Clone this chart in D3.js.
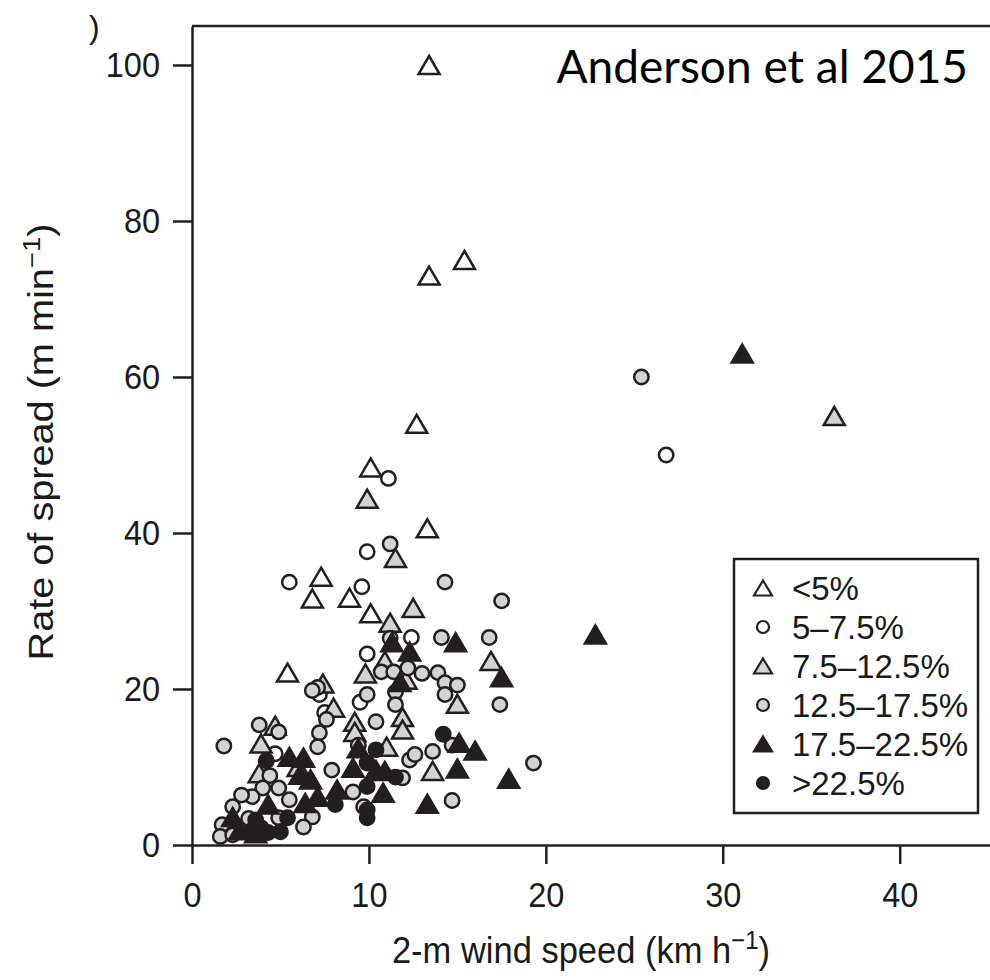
<!DOCTYPE html>
<html><head><meta charset="utf-8">
<script src="https://cdn.jsdelivr.net/npm/d3@7"></script>
<style>body{margin:0;background:#fff}svg{display:block}</style>
</head><body>
<script>
const categories = ["<5%", "5\u20137.5%", "7.5\u201312.5%", "12.5\u201317.5%", "17.5\u201322.5%", ">22.5%"];
const xTicks = [0, 10, 20, 30, 40];
const yTicks = [0, 20, 40, 60, 80, 100];

// [wind speed km/h, rate of spread m/min]
const lt5 = [[13.4,100],[13.4,73],[15.4,75],[12.7,54],[10.1,48.4],[13.3,40.6],[7.3,34.4],[6.8,31.6],[8.9,31.7],[10.1,29.7],[5.4,22.1]];
const s5to75 = [[26.8,50],[11.1,47],[9.9,37.6],[5.5,33.7],[9.6,33.1],[12.4,26.6],[9.9,24.5],[9.5,18.3],[7.2,19.3],[4.7,11.7],[7.5,17.0]];
const s75to125 = [[36.3,55],[9.9,44.4],[11.5,36.8],[12.5,30.4],[11.2,28.5],[10.9,23.6],[9.8,22.0],[12.1,21.2],[7.4,20.7],[16.9,23.6],[15.0,18.1],[8.0,17.6],[9.2,15.8],[9.2,14.5],[11.9,16.4],[11.9,14.8],[11.0,12.6],[13.6,9.5],[4.7,15.3],[3.9,13.0],[3.8,9.2],[6.0,10.0]];
const s125to175 = [[25.4,60],[11.2,38.6],[14.3,33.7],[17.5,31.3],[14.1,26.6],[16.8,26.6],[11.2,26.5],[10.7,22.2],[11.4,22.2],[12.2,22.7],[13.0,22.0],[13.9,22.1],[14.3,20.8],[15.0,20.5],[7.1,20.2],[9.9,19.3],[6.8,19.8],[14.3,19.3],[17.4,18.0],[11.5,19.6],[11.5,18.0],[10.4,15.8],[7.6,16.1],[7.2,14.4],[7.1,12.6],[9.4,12.8],[12.3,10.9],[12.6,11.6],[13.6,12.0],[14.7,12.8],[19.3,10.5],[14.7,5.7],[7.9,9.6],[11.9,8.6],[9.1,6.8],[9.7,4.9],[6.8,3.6],[1.8,12.7],[3.8,15.4],[4.9,14.5],[4.4,8.9],[4.0,7.3],[4.9,7.3],[3.4,6.2],[5.5,5.8],[2.8,6.4],[2.3,4.9],[4.9,3.5],[1.7,2.6],[1.6,1.1],[2.3,1.3],[6.3,2.3],[3.2,3.4]];
const s175to225 = [[31.1,63],[22.8,27],[14.9,26.0],[11.3,26.0],[12.3,24.8],[11.75,20.9],[17.5,21.5],[15.1,13.1],[16.0,12.1],[15.0,9.8],[17.9,8.5],[13.3,5.3],[9.4,12.4],[9.1,9.9],[10.4,9.6],[10.9,9.5],[6.7,8.4],[8.2,7.1],[10.8,6.7],[7.1,6.2],[5.5,11.3],[6.3,11.2],[6.1,9.0],[4.3,5.2],[6.4,5.4],[2.3,3.6],[2.7,1.9],[3.6,1.5]];
const gt225 = [[14.2,14.2],[10.4,12.2],[9.9,10.5],[11.5,8.7],[9.9,7.5],[8.1,5.2],[9.9,4.5],[9.9,3.5],[4.2,10.8],[3.6,3.2],[3.9,2.2],[4.3,1.6],[3.4,1.9],[5.4,3.5],[5.0,1.7]];

const seriesData = [lt5, s5to75, s75to125, s125to175, s175to225, gt225];
const shapes = ["tri", "circ", "tri", "circ", "tri", "circ"];
const fills = ["#ffffff", "#ffffff", "#d1d3d4", "#d1d3d4", "#231f20", "#231f20"];
const ink = "#231f20";

const W = 990, H = 980;
const svg = d3.select("body").append("svg").attr("width", W).attr("height", H);
const x = d3.scaleLinear().domain([0, 45.5]).range([192, 997]);
const y = d3.scaleLinear().domain([0, 105]).range([845, 26]);
const FONT = "'Liberation Sans', Arial, Helvetica, sans-serif";
const STRETCH = 1.07;

function triPath(w, h) {
  return `M0,${-h/2}L${w/2},${h/2}L${-w/2},${h/2}Z`;
}

// frame top line
svg.append("line").attr("x1", x(0)).attr("x2", x(45.5)).attr("y1", y(105)).attr("y2", y(105))
  .attr("stroke", ink).attr("stroke-width", 2.5);

const xAxis = svg.append("g").attr("transform", `translate(0,${y(0)})`)
  .call(d3.axisBottom(x).tickValues(xTicks).tickSize(19).tickSizeOuter(0).tickPadding(16));
const yAxis = svg.append("g").attr("transform", `translate(${x(0)},0)`)
  .call(d3.axisLeft(y).tickValues(yTicks).tickSize(19).tickSizeOuter(0).tickPadding(13));
[xAxis, yAxis].forEach(g => {
  g.selectAll("path.domain").attr("stroke", ink).attr("stroke-width", 2.5);
  g.selectAll(".tick line").attr("stroke", ink).attr("stroke-width", 2.5);
  g.selectAll(".tick text").attr("fill", "#1a1a1a").style("font-family", FONT).style("font-size", "32.5px")
    .attr("transform", `scale(1,${STRETCH})`);
});

// points
seriesData.forEach((pts, i) => {
  const g = svg.append("g");
  pts.forEach(p => {
    if (shapes[i] === "tri") {
      g.append("path").attr("d", triPath(21, 18))
        .attr("transform", `translate(${x(p[0])},${y(p[1])})`)
        .attr("fill", fills[i]).attr("stroke", ink).attr("stroke-width", 2.5).attr("stroke-linejoin", "miter");
    } else {
      g.append("circle").attr("cx", x(p[0])).attr("cy", y(p[1])).attr("r", 7.2)
        .attr("fill", fills[i]).attr("stroke", ink).attr("stroke-width", 2.5);
    }
  });
});

// legend
svg.append("rect").attr("x", 734).attr("y", 559).attr("width", 244).attr("height", 254)
  .attr("fill", "#fff").attr("stroke", ink).attr("stroke-width", 2.5);
categories.forEach((c, i) => {
  const cy = 588 + i * 39;
  if (shapes[i] === "tri") {
    svg.append("path").attr("d", triPath(18, 15)).attr("transform", `translate(763,${cy})`)
      .attr("fill", fills[i]).attr("stroke", ink).attr("stroke-width", 2.2);
  } else {
    svg.append("circle").attr("cx", 763).attr("cy", cy).attr("r", 6)
      .attr("fill", fills[i]).attr("stroke", ink).attr("stroke-width", 2.2);
  }
  svg.append("text").attr("x", 792).attr("y", cy + 11.5).text(c)
    .attr("fill", "#1a1a1a").style("font-family", FONT).style("font-size", "33px");
});

// title
svg.append("text").attr("x", 968).attr("y", 83).attr("text-anchor", "end")
  .text("Anderson et al 2015").attr("fill", "#000")
  .style("font-family", "Lato, 'Open Sans', sans-serif").style("font-size", "46px");

// stray ")" from panel label
svg.append("text").attr("x", 89).attr("y", 38).text(")")
  .attr("fill", "#1a1a1a").style("font-family", FONT).style("font-size", "32px");

// y label
const yl = svg.append("text").attr("transform", "translate(53,442) scale(1,1.15) rotate(-90)")
  .attr("text-anchor", "middle").attr("fill", "#1a1a1a")
  .style("font-family", FONT).style("font-size", "34.5px");
yl.append("tspan").text("Rate of spread (m min");
yl.append("tspan").text("\u22121").attr("dy", -13).style("font-size", "24px");
yl.append("tspan").text(")").attr("dy", 13);

// x label
const xl = svg.append("text").attr("transform", `translate(581,963) scale(1,${STRETCH})`)
  .attr("text-anchor", "middle").attr("fill", "#1a1a1a")
  .style("font-family", FONT).style("font-size", "34.5px");
xl.append("tspan").text("2-m wind speed (km h");
xl.append("tspan").text("\u22121").attr("dy", -13).style("font-size", "24px");
xl.append("tspan").text(")").attr("dy", 13);
</script>
</body></html>
